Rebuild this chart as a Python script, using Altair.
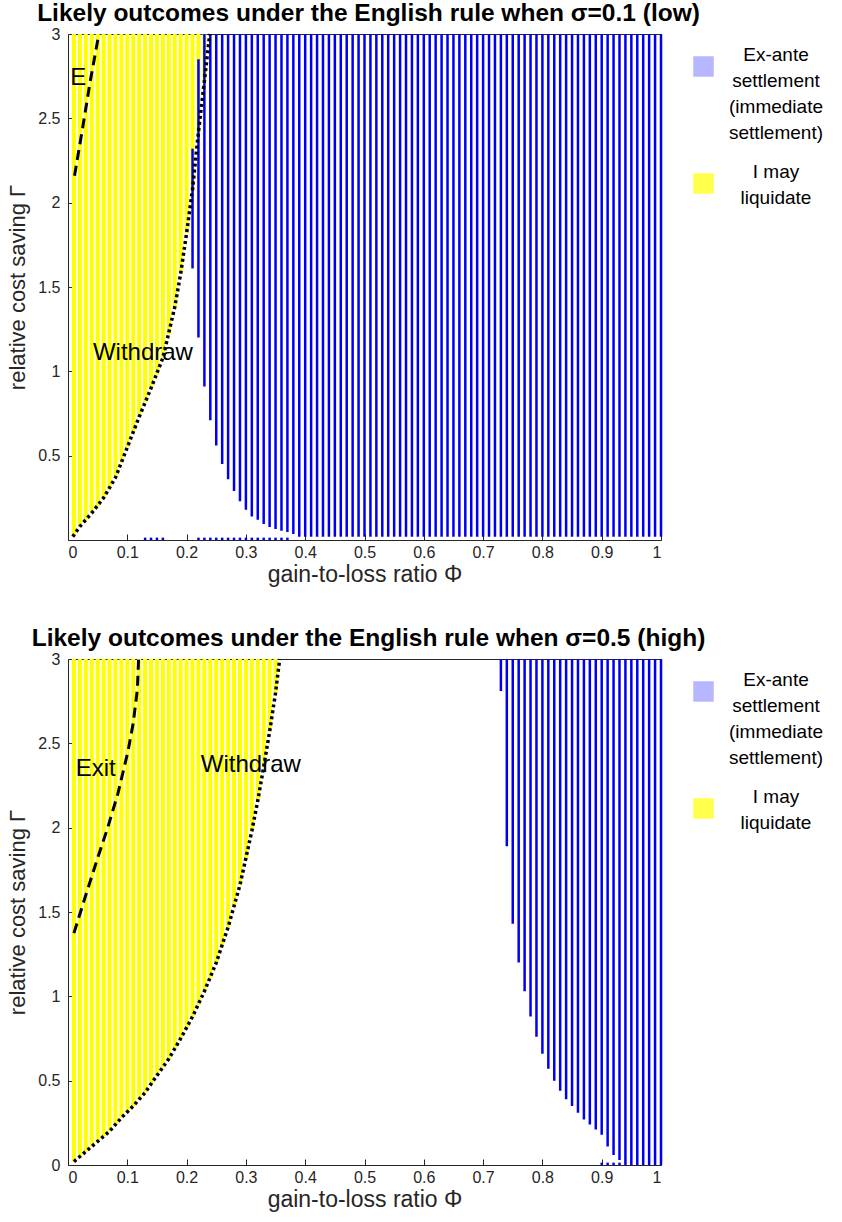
import altair as alt
import pandas as pd

FONT = "Liberation Sans"
INK = "#262626"
YELLOW = "#ffff00"
BLUE = "#0000f0"
LEGEND_BLUE = "#9999ff"
G_MAX = 3.0
# legend square drawn a little below the first label line (as in the reference)
LEGEND_SYMBOL = "M-1,0.17L1,0.17L1,2.17L-1,2.17Z"

panel_titles = [
    "Likely outcomes under the English rule when σ=0.1 (low)",
    "Likely outcomes under the English rule when σ=0.5 (high)",
]
legend_labels = ["Ex-ante|settlement|(immediate|settlement)", "I may|liquidate"]
legend_colors = [LEGEND_BLUE, YELLOW]
x_tick_values = [0, 0.1, 0.2, 0.3, 0.4, 0.5, 0.6, 0.7, 0.8, 0.9, 1]
top_y_ticks = [0.5, 1, 1.5, 2, 2.5, 3]
bottom_y_ticks = [0, 0.5, 1, 1.5, 2, 2.5, 3]

# ---------------- top panel (sigma = 0.1) ----------------
top_yellow_phi = [0.01, 0.02, 0.03, 0.04, 0.05, 0.06, 0.07, 0.08, 0.09, 0.10, 0.11, 0.12,
                  0.13, 0.14, 0.15, 0.16, 0.17, 0.18, 0.19, 0.20, 0.21, 0.22, 0.23]
top_yellow_low = [0.03, 0.08, 0.12, 0.16, 0.20, 0.25, 0.30, 0.37, 0.46, 0.55, 0.64, 0.73,
                  0.82, 0.90, 0.98, 1.08, 1.22, 1.38, 1.58, 1.82, 2.08, 2.42, 2.72]

top_withdraw_phi = [0.008, 0.02, 0.04, 0.06, 0.08, 0.10, 0.12, 0.14, 0.16, 0.18, 0.19, 0.20,
                    0.21, 0.22, 0.23, 0.239]
top_withdraw_gamma = [0.02, 0.08, 0.16, 0.25, 0.37, 0.55, 0.73, 0.90, 1.08, 1.38, 1.58, 1.82,
                      2.08, 2.42, 2.72, 3.0]
top_exit_phi = [0.011, 0.025, 0.037, 0.051]
top_exit_gamma = [2.16, 2.45, 2.71, 2.98]

top_blue_phi = [round(0.01 * i, 2) for i in range(21, 101)]
top_blue_low = [1.61, 1.20, 0.91, 0.71, 0.56, 0.45, 0.36, 0.29, 0.23, 0.18,
                0.14, 0.12, 0.095, 0.077, 0.065, 0.055, 0.047, 0.036,
                0.02, 0.02, 0.02, 0.02, 0.02, 0.02, 0.02, 0.02, 0.02, 0.02, 0.02, 0.02,
                0.02, 0.02, 0.02, 0.02, 0.02, 0.02, 0.02, 0.02, 0.02, 0.02, 0.02, 0.02,
                0.02, 0.02, 0.02, 0.02, 0.02, 0.02, 0.02, 0.02, 0.02, 0.02, 0.02, 0.02,
                0.02, 0.02, 0.02, 0.02, 0.02, 0.02, 0.02, 0.02, 0.02, 0.02, 0.02, 0.02,
                0.02, 0.02, 0.02, 0.02, 0.02, 0.02, 0.02, 0.02, 0.02, 0.02, 0.02, 0.02,
                0.02, 0.02]
top_blue_high = [2.32, 2.85] + [G_MAX] * 78

top_dot_phi = [0.13, 0.14, 0.15, 0.16, 0.22, 0.23, 0.24, 0.25, 0.26, 0.27, 0.28, 0.29,
               0.30, 0.31, 0.32, 0.33, 0.34, 0.35, 0.36, 0.37]

top_label_text = ["E", "Withdraw"]
top_label_phi = [0.004, 0.042]
top_label_gamma = [2.74, 1.11]

# ---------------- bottom panel (sigma = 0.5) ----------------
bottom_yellow_phi = [round(0.01 * i, 2) for i in range(1, 36)]
bottom_yellow_low = [0.02, 0.05, 0.08, 0.11, 0.14, 0.17, 0.20, 0.24, 0.28, 0.31, 0.35, 0.39,
                     0.43, 0.48, 0.53, 0.58, 0.63, 0.69, 0.75, 0.81, 0.88, 0.95, 1.03, 1.11,
                     1.20, 1.30, 1.41, 1.53, 1.66, 1.81, 1.98, 2.16, 2.36, 2.57, 2.80]

bottom_withdraw_phi = [0.01, 0.03, 0.05, 0.07, 0.09, 0.11, 0.13, 0.15, 0.17, 0.19, 0.21, 0.23,
                       0.25, 0.27, 0.29, 0.31, 0.32, 0.33, 0.34, 0.35, 0.357]
bottom_withdraw_gamma = [0.02, 0.08, 0.14, 0.20, 0.28, 0.35, 0.43, 0.53, 0.63, 0.75, 0.88, 1.03,
                         1.20, 1.41, 1.66, 1.98, 2.16, 2.36, 2.57, 2.80, 3.0]
bottom_exit_phi = [0.01, 0.03, 0.05, 0.067, 0.084, 0.101, 0.11, 0.117, 0.119]
bottom_exit_gamma = [1.375, 1.6, 1.82, 2.0, 2.2, 2.45, 2.62, 2.82, 3.0]

bottom_blue_phi = [round(0.01 * i, 2) for i in range(73, 101)]
bottom_blue_low = [2.81, 1.89, 1.43, 1.20, 1.03, 0.88, 0.76, 0.66, 0.57, 0.50, 0.44, 0.39,
                   0.35, 0.31, 0.27, 0.24, 0.21, 0.18, 0.11, 0.06, 0.03, 0.012,
                   0.0, 0.0, 0.0, 0.0, 0.0, 0.0]
bottom_blue_high = [G_MAX] * 28

bottom_dot_phi = [0.90, 0.91, 0.92, 0.93, 0.94]

bottom_label_text = ["Exit", "Withdraw"]
bottom_label_phi = [0.013, 0.224]
bottom_label_gamma = [2.35, 2.37]


def panel(title, y_ticks, yel_phi, yel_low, blue_phi, blue_low, blue_high, dot_phi,
          wd_phi, wd_gamma, ex_phi, ex_gamma, lab_text, lab_phi, lab_gamma):
    xs = alt.Scale(domain=[0, 1], nice=False, zero=False)
    ys = alt.Scale(domain=[0, G_MAX], nice=False, zero=False)
    xax = alt.Axis(values=x_tick_values, format="~g", title="gain-to-loss ratio Φ",
                   offset=-6, tickSize=6, labelPadding=4, titlePadding=3, grid=False,
                   domain=False, labelFont=FONT, labelFontSize=16, labelColor=INK,
                   titleFont=FONT, titleFontSize=23, titleFontWeight="normal",
                   titleColor=INK, tickColor=INK)
    yax = alt.Axis(values=y_ticks, format="~g", title="relative cost saving Γ",
                   offset=-6, tickSize=6, labelPadding=8, titlePadding=8, grid=False,
                   domain=False, labelFont=FONT, labelFontSize=16, labelColor=INK,
                   titleFont=FONT, titleFontSize=22, titleFontWeight="normal",
                   titleColor=INK, tickColor=INK)

    yel = pd.DataFrame({"phi": yel_phi, "low": yel_low, "high": [G_MAX] * len(yel_phi)})
    blue = pd.DataFrame({"phi": blue_phi, "low": blue_low, "high": blue_high})
    dots = pd.DataFrame({"phi": dot_phi, "low": [0.0] * len(dot_phi),
                         "high": [0.014] * len(dot_phi)})
    wd = pd.DataFrame({"phi": wd_phi, "g": wd_gamma})
    ex = pd.DataFrame({"phi": ex_phi, "g": ex_gamma})
    labs = pd.DataFrame({"t": lab_text, "phi": lab_phi, "g": lab_gamma})
    leg = pd.DataFrame({"cat": legend_labels, "phi": [0.5, 0.5], "g": [1.5, 1.5]})

    yellow_l = alt.Chart(yel).mark_rule(color=YELLOW, strokeWidth=4).encode(
        x=alt.X("phi:Q", scale=xs, axis=xax),
        y=alt.Y("low:Q", scale=ys, axis=yax),
        y2="high:Q",
    )
    blue_l = alt.Chart(blue).mark_rule(color=BLUE, strokeWidth=2.5).encode(
        x="phi:Q", y="low:Q", y2="high:Q")
    dot_l = alt.Chart(dots).mark_rule(color=BLUE, strokeWidth=2.5).encode(
        x="phi:Q", y="low:Q", y2="high:Q")
    wd_l = alt.Chart(wd).mark_line(color="black", strokeWidth=3.5, strokeDash=[3, 3]).encode(
        x="phi:Q", y="g:Q")
    ex_l = alt.Chart(ex).mark_line(color="black", strokeWidth=3, strokeDash=[10, 6]).encode(
        x="phi:Q", y="g:Q")
    text_l = alt.Chart(labs).mark_text(align="left", baseline="middle", font=FONT,
                                       fontSize=24, color="black").encode(
        x="phi:Q", y="g:Q", text="t:N")
    legend_l = alt.Chart(leg).mark_square(size=0).encode(
        x="phi:Q", y="g:Q",
        color=alt.Color("cat:N",
                        scale=alt.Scale(domain=legend_labels, range=legend_colors),
                        legend=alt.Legend(orient="none", legendX=625, legendY=10, title=None,
                                          symbolType=LEGEND_SYMBOL, symbolSize=420,
                                          symbolStrokeWidth=0, labelFont=FONT,
                                          labelFontSize=19, labelColor="black",
                                          labelAlign="center", labelOffset=62,
                                          labelLimit=300, rowPadding=18,
                                          labelExpr="split(datum.label, '|')")),
    )
    return alt.layer(yellow_l, blue_l, dot_l, wd_l, ex_l, text_l, legend_l).properties(
        width=593, height=506,
        title=alt.TitleParams(title, font=FONT, fontSize=24.5, fontWeight="bold",
                              color="black", anchor="middle", offset=0, dx=4),
    )


top = panel(panel_titles[0], top_y_ticks, top_yellow_phi, top_yellow_low, top_blue_phi,
            top_blue_low, top_blue_high, top_dot_phi, top_withdraw_phi, top_withdraw_gamma,
            top_exit_phi, top_exit_gamma, top_label_text, top_label_phi, top_label_gamma)
bottom = panel(panel_titles[1], bottom_y_ticks, bottom_yellow_phi, bottom_yellow_low,
               bottom_blue_phi, bottom_blue_low, bottom_blue_high, bottom_dot_phi,
               bottom_withdraw_phi, bottom_withdraw_gamma, bottom_exit_phi, bottom_exit_gamma,
               bottom_label_text, bottom_label_phi, bottom_label_gamma)

chart = (
    alt.vconcat(top, bottom, spacing=38)
    .resolve_scale(color="independent")
    .resolve_legend(color="independent")
    .properties(padding={"left": 6, "top": 0, "right": 0, "bottom": 0})
    .configure(style={"guide-label": {"lineHeight": 26}})
    .configure_view(stroke=INK, strokeWidth=1)
)

chart.save("out.html", embed_options={"renderer": "svg", "actions": False})
